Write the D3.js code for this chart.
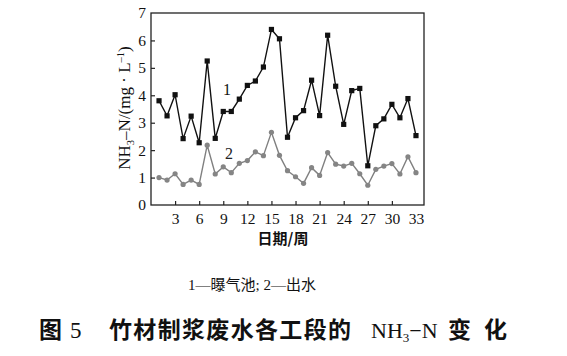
<!DOCTYPE html>
<html><head><meta charset="utf-8">
<script src="https://cdn.jsdelivr.net/npm/d3@7"></script>
<style>body{margin:0;background:#fff}svg{display:block}</style>
</head><body>
<script>
const days = d3.range(1, 34);
const aeration = [3.8,3.25,4.02,2.42,3.24,2.27,5.25,2.43,3.41,3.41,3.86,4.36,4.52,5.03,6.4,6.06,2.47,3.18,3.44,4.55,3.26,6.19,4.33,2.94,4.17,4.25,1.43,2.89,3.14,3.67,3.18,3.88,2.53];
const effluent = [1.0,0.91,1.14,0.75,0.91,0.75,2.18,1.13,1.39,1.18,1.52,1.62,1.94,1.80,2.65,1.81,1.25,1.03,0.79,1.36,1.08,1.91,1.49,1.42,1.52,1.14,0.72,1.30,1.42,1.51,1.13,1.76,1.18];
const xTicks = [3,6,9,12,15,18,21,24,27,30,33];
const yTicks = [0,1,2,3,4,5,6,7];

const W = 567, H = 356;
const svg = d3.select("body").append("svg").attr("width", W).attr("height", H);
const L = 151, R = 424, T = 13, B = 205;
const x = d3.scaleLinear().domain([0, 34]).range([L, R]);
const y = d3.scaleLinear().domain([0, 7]).range([B, T]);
const serif = "'Liberation Serif','DejaVu Serif',serif";
const cjk = "'Noto Sans CJK SC','Noto Sans',sans-serif";

// frame
svg.append("rect").attr("x", L).attr("y", T).attr("width", R - L).attr("height", B - T)
  .attr("fill", "none").attr("stroke", "#222").attr("stroke-width", 1.3);

// axes
const xAxis = svg.append("g").attr("transform", `translate(0,${B})`)
  .call(d3.axisBottom(x).tickValues(xTicks).tickFormat(d3.format("d")).tickSizeInner(-4).tickSizeOuter(0).tickPadding(8));
const yAxis = svg.append("g").attr("transform", `translate(${L},0)`)
  .call(d3.axisLeft(y).tickValues(yTicks).tickFormat(d3.format("d")).tickSizeInner(-4).tickSizeOuter(0).tickPadding(5));
[xAxis, yAxis].forEach(g => {
  g.select(".domain").remove();
  g.selectAll("line").attr("stroke", "#222").attr("stroke-width", 1.2);
  g.selectAll("text").attr("font-family", serif).attr("font-size", 15.5).attr("fill", "#111");
});
yAxis.selectAll(".tick").filter(d => d === 0 || d === 7).select("line").remove();
xAxis.selectAll(".tick").filter(d => d === 33).select("line").remove();

// lines
const line = d3.line().x((d, i) => x(days[i])).y(d => y(d));
svg.append("path").datum(effluent).attr("d", line).attr("fill", "none")
  .attr("stroke", "#808080").attr("stroke-width", 1.4);
svg.selectAll(".c2").data(effluent).join("circle")
  .attr("cx", (d, i) => x(days[i])).attr("cy", d => y(d)).attr("r", 2.6).attr("fill", "#858585");
svg.append("path").datum(aeration).attr("d", line).attr("fill", "none")
  .attr("stroke", "#111").attr("stroke-width", 1.4);
svg.selectAll(".s1").data(aeration).join("rect")
  .attr("x", (d, i) => x(days[i]) - 2.6).attr("y", d => y(d) - 2.6)
  .attr("width", 5.2).attr("height", 5.2).attr("fill", "#111");

// series labels
svg.append("text").attr("x", x(9.45)).attr("y", y(4.0)).attr("text-anchor", "middle")
  .attr("font-family", serif).attr("font-size", 16).attr("fill", "#111").text("1");
svg.append("text").attr("x", x(9.7)).attr("y", y(1.68)).attr("text-anchor", "middle")
  .attr("font-family", serif).attr("font-size", 16).attr("fill", "#222").text("2");

// y label
const yl = svg.append("text").attr("transform", `translate(130,108) rotate(-90)`)
  .attr("text-anchor", "middle").attr("font-family", serif).attr("font-size", 17).attr("fill", "#111");
yl.append("tspan").text("NH");
yl.append("tspan").attr("font-size", 10.5).attr("dy", 4).text("3");
yl.append("tspan").attr("dy", -4).text("–N/(mg · L");
yl.append("tspan").attr("font-size", 10.5).attr("dy", -6).text("–1");
yl.append("tspan").attr("dy", 6).text(")");

// x label
svg.append("text").attr("x", 283).attr("y", 244).attr("text-anchor", "middle")
  .attr("font-family", cjk).attr("font-size", 15).attr("font-weight", 700).attr("fill", "#111").text("日期/周");

// legend note
const lg = svg.append("text").attr("x", 188).attr("y", 290).attr("font-size", 15).attr("fill", "#111");
lg.append("tspan").attr("font-family", serif).text("1—");
lg.append("tspan").attr("font-family", cjk).text("曝气池");
lg.append("tspan").attr("font-family", serif).text("; 2—");
lg.append("tspan").attr("font-family", cjk).text("出水");

// title
const tt = svg.append("g").attr("fill", "#111");
tt.append("text").attr("x", 39).attr("y", 338).attr("font-family", cjk).attr("font-weight", 700).attr("font-size", 23).text("图");
tt.append("text").attr("x", 70).attr("y", 338).attr("font-family", serif).attr("font-size", 23).text("5");
tt.append("text").attr("x", 109).attr("y", 338).attr("font-family", cjk).attr("font-weight", 700).attr("font-size", 23)
  .attr("textLength", 242).attr("lengthAdjust", "spacing").text("竹材制浆废水各工段的");
const nt = tt.append("text").attr("x", 371).attr("y", 338).attr("font-family", serif).attr("font-size", 22);
nt.append("tspan").text("NH");
nt.append("tspan").attr("font-size", 13).attr("dy", 4).text("3");
nt.append("tspan").attr("dy", -4).text("−N");
tt.append("text").attr("x", 448).attr("y", 338).attr("font-family", cjk).attr("font-weight", 700).attr("font-size", 23)
  .attr("textLength", 59).attr("lengthAdjust", "spacing").text("变化");
</script>
</body></html>
